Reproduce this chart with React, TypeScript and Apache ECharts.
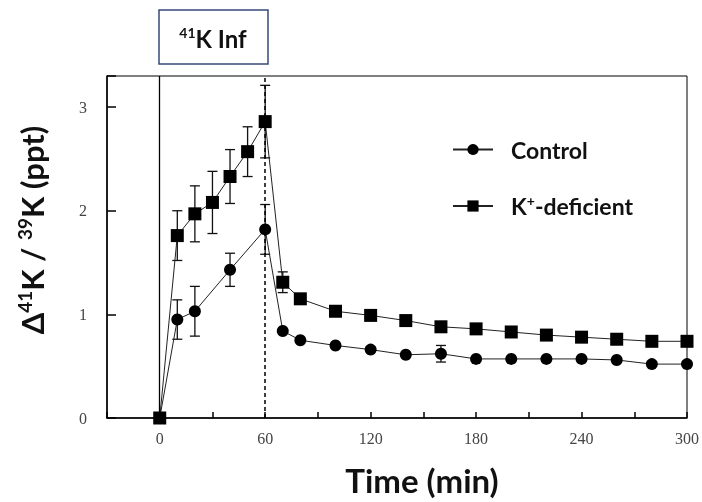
import React, { useEffect, useRef } from 'react';
import * as echarts from 'echarts';

const controlTimes = [0, 10, 20, 40, 60, 70, 80, 100, 120, 140, 160, 180, 200, 220, 240, 260, 280, 300];
const controlValues = [0, 0.95, 1.03, 1.43, 1.82, 0.84, 0.75, 0.7, 0.66, 0.61, 0.62, 0.57, 0.57, 0.57, 0.57, 0.56, 0.52, 0.52];
const controlErrors = [0, 0.19, 0.24, 0.16, 0.24, 0, 0, 0, 0, 0, 0.08, 0, 0, 0, 0, 0, 0, 0];

const kdefTimes = [0, 10, 20, 30, 40, 50, 60, 70, 80, 100, 120, 140, 160, 180, 200, 220, 240, 260, 280, 300];
const kdefValues = [0, 1.76, 1.97, 2.08, 2.33, 2.57, 2.86, 1.31, 1.15, 1.03, 0.99, 0.94, 0.88, 0.86, 0.83, 0.8, 0.78, 0.76, 0.74, 0.74];
const kdefErrors = [0, 0.24, 0.27, 0.3, 0.26, 0.24, 0.35, 0.1, 0, 0, 0, 0, 0, 0, 0, 0, 0, 0, 0, 0];

const seriesNames = ['Control', 'K+-deficient'];
const markerTimes = [0, 60];

export default function App() {
  const ref = useRef<HTMLDivElement>(null);
  useEffect(() => {
    const chart = echarts.init(ref.current!, null, { renderer: 'svg' });
    const ctrlData = controlTimes.map((t, i) => [t, controlValues[i]]);
    const kdefData = kdefTimes.map((t, i) => [t, kdefValues[i]]);
    const errData: number[][] = [];
    controlTimes.forEach((t, i) => {
      if (controlErrors[i] > 0) errData.push([t, controlValues[i] - controlErrors[i], controlValues[i] + controlErrors[i]]);
    });
    kdefTimes.forEach((t, i) => {
      if (kdefErrors[i] > 0) errData.push([t, kdefValues[i] - kdefErrors[i], kdefValues[i] + kdefErrors[i]]);
    });

    chart.setOption({
      animation: false,
      grid: { left: 107, right: 15, top: 76, bottom: 84, show: true, borderColor: '#000', borderWidth: 1 },
      xAxis: {
        type: 'value',
        min: -30,
        max: 300,
        interval: 30,
        axisLine: { show: true, onZero: false, lineStyle: { color: '#000', width: 1.5 } },
        axisTick: { show: true, inside: true, length: 6, lineStyle: { color: '#000', width: 1.5 } },
        axisLabel: {
          formatter: (v: number) => (v >= 0 && v % 60 === 0 ? String(v) : ''),
          fontFamily: 'Liberation Serif',
          fontSize: 16,
          color: '#444',
          margin: 12,
        },
        splitLine: { show: false },
      },
      yAxis: {
        type: 'value',
        min: 0,
        max: 3.3,
        interval: 1,
        axisLine: { show: true, onZero: false, lineStyle: { color: '#000', width: 1.5 } },
        axisTick: { show: true, inside: true, length: 9, lineStyle: { color: '#000', width: 1.5 } },
        axisLabel: {
          formatter: (v: number) => (Math.abs(v - Math.round(v)) < 1e-6 ? String(Math.round(v)) : ''),
          fontFamily: 'Liberation Serif',
          fontSize: 16,
          color: '#444',
          margin: 20,
        },
        splitLine: { show: false },
      },
      legend: {
        orient: 'vertical',
        left: 447,
        top: 133,
        itemWidth: 40,
        itemHeight: 14,
        itemGap: 32,
        data: seriesNames,
        formatter: (name: string) => (name === 'Control' ? '{n|Control}' : '{n|K}{sup|+}{n|-deficient}'),
        textStyle: {
          padding: [0, 0, 0, 13],
          rich: {
            n: { fontFamily: 'Lato', fontWeight: 'bold', fontSize: 23, color: '#111', lineHeight: 26 },
            sup: { fontFamily: 'Lato', fontWeight: 'bold', fontSize: 14, color: '#111', lineHeight: 14, verticalAlign: 'top' },
          },
        },
      },
      graphic: [
        {
          type: 'rect',
          shape: { x: 159, y: 10, width: 109, height: 54 },
          style: { fill: '#fff', stroke: '#3a4a78', lineWidth: 1.5 },
        },
        {
          type: 'text',
          x: 213,
          y: 38,
          style: {
            text: '{sup|41}{n|K Inf}',
            align: 'center',
            verticalAlign: 'middle',
            rich: {
              n: { fontFamily: 'Lato', fontWeight: 'bold', fontSize: 24, fill: '#111', lineHeight: 26 },
              sup: { fontFamily: 'Lato', fontWeight: 'bold', fontSize: 14, fill: '#111', lineHeight: 15, verticalAlign: 'top' },
            },
          },
        },
        {
          type: 'text',
          x: 32,
          y: 230,
          rotation: Math.PI / 2,
          style: {
            text: '{n|Δ}{sup|41}{n|K / }{sup|39}{n|K (ppt)}',
            align: 'center',
            verticalAlign: 'middle',
            rich: {
              n: { fontFamily: 'Lato', fontWeight: 'bold', fontSize: 31, fill: '#111', lineHeight: 34 },
              sup: { fontFamily: 'Lato', fontWeight: 'bold', fontSize: 19, fill: '#111', lineHeight: 20, verticalAlign: 'top' },
            },
          },
        },
        {
          type: 'text',
          x: 422,
          y: 480,
          style: {
            text: 'Time (min)',
            align: 'center',
            verticalAlign: 'middle',
            fontFamily: 'Lato',
            fontWeight: 'bold',
            fontSize: 33,
            fill: '#111',
          },
        },
      ],
      series: [
        {
          type: 'custom',
          silent: true,
          z: 1,
          data: errData,
          encode: { x: 0, y: [1, 2] },
          renderItem: (params: any, api: any) => {
            const x = api.value(0);
            const p1 = api.coord([x, api.value(1)]);
            const p2 = api.coord([x, api.value(2)]);
            const w = 5;
            const st = { stroke: '#111', lineWidth: 1.3 };
            return {
              type: 'group',
              children: [
                { type: 'line', shape: { x1: p1[0], y1: p1[1], x2: p2[0], y2: p2[1] }, style: st },
                { type: 'line', shape: { x1: p1[0] - w, y1: p1[1], x2: p1[0] + w, y2: p1[1] }, style: st },
                { type: 'line', shape: { x1: p2[0] - w, y1: p2[1], x2: p2[0] + w, y2: p2[1] }, style: st },
              ],
            };
          },
        },
        {
          name: seriesNames[0],
          type: 'line',
          z: 3,
          data: ctrlData,
          symbol: 'circle',
          symbolSize: 12,
          itemStyle: { color: '#000' },
          lineStyle: { color: '#222', width: 1 },
          markLine: {
            silent: true,
            symbol: 'none',
            label: { show: false },
            data: [
              { xAxis: markerTimes[0], lineStyle: { type: 'solid', color: '#000', width: 1.3 } },
              { xAxis: markerTimes[1], lineStyle: { type: [4, 3], color: '#000', width: 1.5 } },
            ],
          },
        },
        {
          name: seriesNames[1],
          type: 'line',
          z: 4,
          data: kdefData,
          symbol: 'rect',
          symbolSize: 13,
          itemStyle: { color: '#000' },
          lineStyle: { color: '#222', width: 1 },
        },
      ],
    });
    return () => chart.dispose();
  }, []);
  return <div ref={ref} style={{ position: 'fixed', left: 0, top: 0, width: 702, height: 502 }} />;
}
